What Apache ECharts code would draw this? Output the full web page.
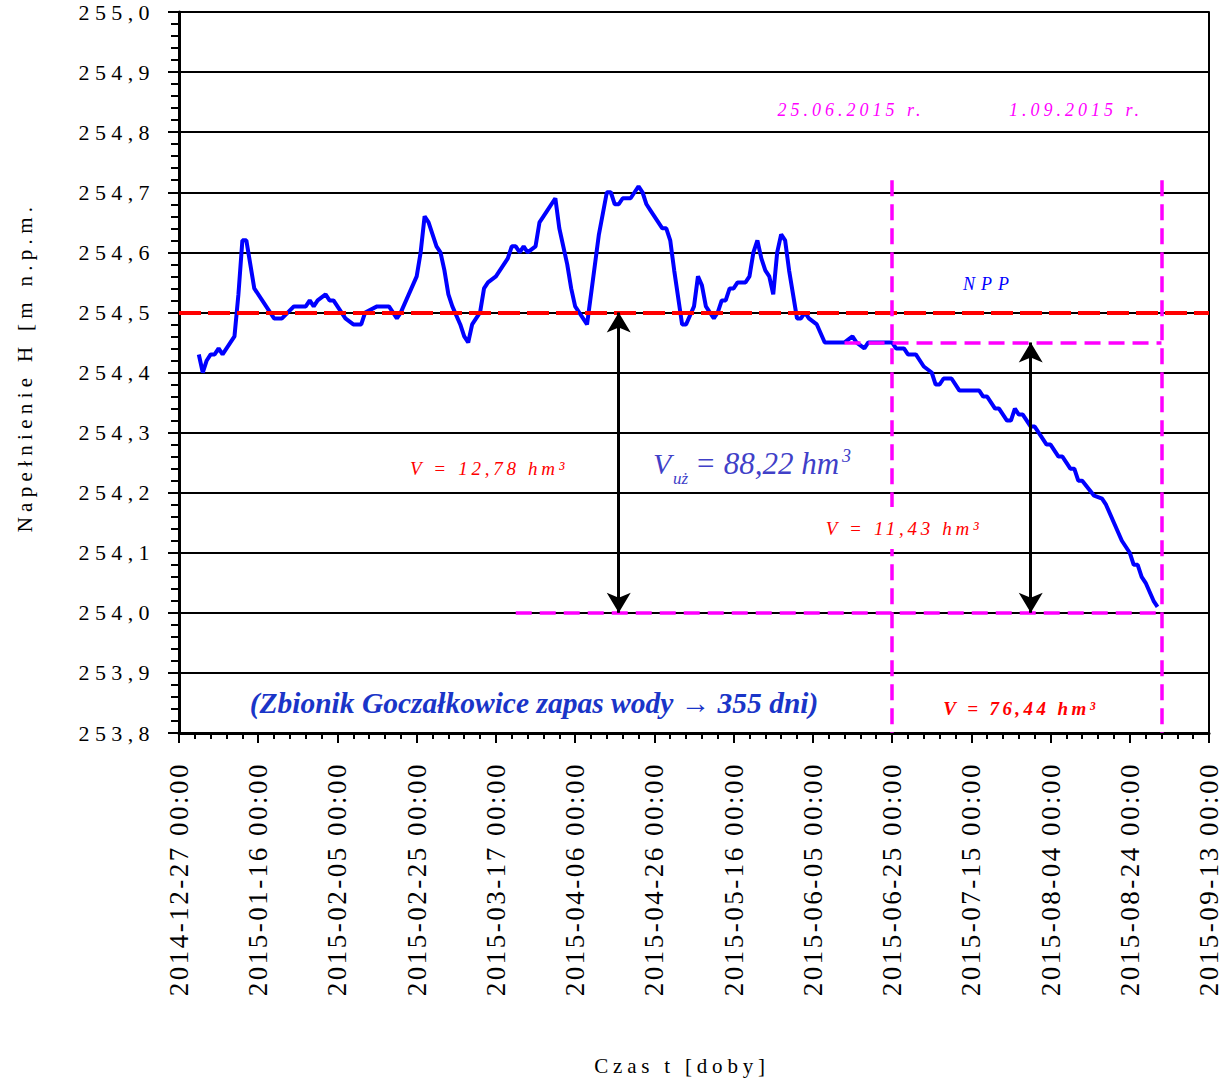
<!DOCTYPE html>
<html><head><meta charset="utf-8">
<script src="https://cdn.jsdelivr.net/npm/echarts@6/dist/echarts.min.js"></script>
<style>html,body{margin:0;padding:0;background:#fff}#chart{width:1227px;height:1082px}</style>
</head><body><div id="chart"></div>
<script>
// ---------------- data ----------------
const dates = ['2015-01-01','2015-01-02','2015-01-03','2015-01-04','2015-01-05','2015-01-06','2015-01-07','2015-01-10','2015-01-11','2015-01-12',
'2015-01-13','2015-01-15','2015-01-19','2015-01-20','2015-01-22','2015-01-25','2015-01-28','2015-01-29','2015-01-30','2015-01-31',
'2015-02-02','2015-02-03','2015-02-04','2015-02-06','2015-02-07','2015-02-09','2015-02-11','2015-02-12','2015-02-15','2015-02-18',
'2015-02-19','2015-02-20','2015-02-21','2015-02-23','2015-02-25','2015-02-26','2015-02-27','2015-02-28','2015-03-02','2015-03-03',
'2015-03-04','2015-03-05','2015-03-06','2015-03-08','2015-03-09','2015-03-10','2015-03-11','2015-03-13','2015-03-14','2015-03-15',
'2015-03-17','2015-03-20','2015-03-21','2015-03-22','2015-03-23','2015-03-24','2015-03-25','2015-03-27','2015-03-28','2015-03-30',
'2015-04-01','2015-04-02','2015-04-04','2015-04-05','2015-04-06','2015-04-07','2015-04-09','2015-04-10','2015-04-12','2015-04-14',
'2015-04-15','2015-04-16','2015-04-17','2015-04-18','2015-04-20','2015-04-22','2015-04-23','2015-04-24','2015-04-25','2015-04-26',
'2015-04-28','2015-04-29','2015-04-30','2015-05-01','2015-05-03','2015-05-04','2015-05-06','2015-05-07','2015-05-08','2015-05-09',
'2015-05-11','2015-05-12','2015-05-13','2015-05-14','2015-05-15','2015-05-16','2015-05-17','2015-05-19','2015-05-20','2015-05-21',
'2015-05-22','2015-05-23','2015-05-24','2015-05-25','2015-05-26','2015-05-27','2015-05-28','2015-05-29','2015-05-30','2015-06-01',
'2015-06-02','2015-06-03','2015-06-04','2015-06-06','2015-06-08','2015-06-13','2015-06-15','2015-06-16','2015-06-18','2015-06-19',
'2015-06-25','2015-06-26','2015-06-28','2015-06-29','2015-07-01','2015-07-03','2015-07-05','2015-07-06','2015-07-07','2015-07-08',
'2015-07-10','2015-07-12','2015-07-17','2015-07-18','2015-07-19','2015-07-21','2015-07-22','2015-07-24','2015-07-25','2015-07-26',
'2015-07-27','2015-07-28','2015-07-30','2015-07-31','2015-08-03','2015-08-04','2015-08-06','2015-08-07','2015-08-09','2015-08-10',
'2015-08-11','2015-08-12','2015-08-15','2015-08-17','2015-08-18','2015-08-20','2015-08-22','2015-08-24','2015-08-25','2015-08-26',
'2015-08-27','2015-08-28','2015-08-30','2015-08-31'];
const levels = [254.43,254.40,254.42,254.43,254.43,254.44,254.43,254.46,254.53,254.62,
254.62,254.54,254.50,254.49,254.49,254.51,254.51,254.52,254.51,254.52,
254.53,254.52,254.52,254.50,254.49,254.48,254.48,254.50,254.51,254.51,
254.50,254.49,254.50,254.53,254.56,254.60,254.66,254.65,254.61,254.60,
254.57,254.53,254.51,254.48,254.46,254.45,254.48,254.50,254.54,254.55,
254.56,254.59,254.61,254.61,254.60,254.61,254.60,254.61,254.65,254.67,
254.69,254.64,254.58,254.54,254.51,254.50,254.48,254.53,254.63,254.70,
254.70,254.68,254.68,254.69,254.69,254.71,254.70,254.68,254.67,254.66,
254.64,254.64,254.62,254.57,254.48,254.48,254.51,254.56,254.545,254.51,
254.49,254.50,254.52,254.52,254.54,254.54,254.55,254.55,254.56,254.60,
254.62,254.59,254.57,254.56,254.53,254.60,254.63,254.62,254.57,254.49,
254.49,254.50,254.49,254.48,254.45,254.45,254.46,254.45,254.44,254.45,
254.45,254.44,254.44,254.43,254.43,254.41,254.40,254.38,254.38,254.39,
254.39,254.37,254.37,254.36,254.36,254.34,254.34,254.32,254.32,254.34,
254.33,254.33,254.31,254.31,254.28,254.28,254.26,254.26,254.24,254.24,
254.22,254.22,254.195,254.19,254.18,254.15,254.12,254.10,254.08,254.08,
254.06,254.05,254.02,254.01];

const xTickLabels = ['2014-12-27 00:00','2015-01-16 00:00','2015-02-05 00:00','2015-02-25 00:00','2015-03-17 00:00','2015-04-06 00:00','2015-04-26 00:00',
'2015-05-16 00:00','2015-06-05 00:00','2015-06-25 00:00','2015-07-15 00:00','2015-08-04 00:00','2015-08-24 00:00','2015-09-13 00:00'];
const yTickLabels = ['253,8','253,9','254,0','254,1','254,2','254,3','254,4','254,5','254,6','254,7','254,8','254,9','255,0'];

// reference levels / annotation marks
const nppLevel = 254.5;
const markDates = ['2015-06-25', '2015-09-01'];
const markTopLevel = 254.72;
const lowerLevel = 254.45;
const lowerStart = '2015-06-13';
const deadLevel = 254.0;
const deadStart = '2015-03-22';
const arrowDates = ['2015-04-17', '2015-07-30'];
const arrowTops = [254.5, 254.45];

// ---------------- helpers ----------------
const startDate = '2014-12-27';
const endDate = '2015-09-13';
function dayOf(s){ return Math.round((Date.parse(s+'T00:00:00Z') - Date.parse(startDate+'T00:00:00Z'))/86400000); }
const xMin = 0, xMax = dayOf(endDate), xStep = 20;
const yMin = 253.8, yMax = 255.0, yStep = 0.1;

const FONT = '"Liberation Serif", "Times New Roman", serif';
const seriesData = dates.map((d,i)=>[dayOf(d), levels[i]]);

const chart = echarts.init(document.getElementById('chart'), null, {renderer:'svg'});

function txt(o){
  return Object.assign({type:'text', z:50, silent:true}, o, {style: Object.assign({fontFamily:FONT, align:'center', verticalAlign:'middle', textAlign:'center', textVerticalAlign:'middle'}, o.style)});
}

const option = {
  animation:false,
  backgroundColor:'#fff',
  grid:{left:179, right:18, top:12, bottom:349, containLabel:false},
  xAxis:{
    type:'value', min:xMin, max:xMax, interval:xStep,
    axisLine:{show:true, onZero:false, lineStyle:{color:'#000', width:3}},
    axisTick:{show:true, length:10, lineStyle:{color:'#000', width:2}},
    minorTick:{show:true, splitNumber:5, length:6, lineStyle:{color:'#000', width:2}},
    splitLine:{show:false},
    axisLabel:{rotate:90, margin:29, fontFamily:FONT, fontSize:27, color:'#000', padding:[10,0,0,0],
      formatter:(v)=>xTickLabels[Math.round((v-xMin)/xStep)]}
  },
  yAxis:[{
    type:'value', min:yMin, max:yMax, interval:yStep,
    axisLine:{show:true, lineStyle:{color:'#000', width:3}},
    axisTick:{show:true, length:11, lineStyle:{color:'#000', width:2}},
    minorTick:{show:true, splitNumber:5, length:8, lineStyle:{color:'#000', width:2}},
    splitLine:{show:true, lineStyle:{color:'#000', width:2}},
    axisLabel:{margin:24, fontFamily:FONT, fontSize:22, color:'#000', padding:[6,0,0,0],
      formatter:(v)=>yTickLabels[Math.round((v-yMin)/yStep)]}
  },{
    type:'value', min:yMin, max:yMax, interval:yStep, position:'right',
    axisLine:{show:true, lineStyle:{color:'#000', width:2}},
    axisTick:{show:false}, axisLabel:{show:false}, splitLine:{show:false}
  }],
  series:[
    {type:'line', name:'H', data:seriesData, showSymbol:false, symbol:'none', z:3,
     lineStyle:{color:'#0000ff', width:4}},
    {type:'line', name:'NPP', data:[], z:4,
     markLine:{silent:true, animation:false, symbol:['none','none'], label:{show:false}, z:6,
       lineStyle:{color:'#ff0000', width:4, type:[22,7]},
       data:[[{coord:[xMin, nppLevel]},{coord:[xMax, nppLevel]}]]}},
    {type:'line', name:'limits', data:[], z:4,
     markLine:{silent:true, animation:false, symbol:['none','none'], label:{show:false}, z:7,
       lineStyle:{color:'#ff00ff', width:3.5, type:[16,8]},
       data:[
         [{coord:[dayOf(markDates[0]), markTopLevel]},{coord:[dayOf(markDates[0]), yMin]}],
         [{coord:[dayOf(markDates[1]), markTopLevel]},{coord:[dayOf(markDates[1]), yMin]}],
         [{coord:[dayOf(lowerStart), lowerLevel]},{coord:[dayOf(markDates[1]), lowerLevel]}],
         [{coord:[dayOf(deadStart), deadLevel]},{coord:[dayOf(markDates[1]), deadLevel]}]
       ]}},
    {type:'line', name:'arrows', data:[], z:4,
     markLine:{silent:true, animation:false, symbol:['arrow','arrow'], symbolSize:[18,20], label:{show:false}, z:8,
       lineStyle:{color:'#000', width:3, type:'solid'},
       data: arrowDates.map((d,i)=>[{coord:[dayOf(d), arrowTops[i]]},{coord:[dayOf(d), deadLevel]}])}}
  ],
  graphic:[
    txt({x:25, y:367, rotation:Math.PI/2, style:{text:'Napełnienie H [m n.p.m.', fontSize:21, fill:'#000'}}),
    txt({x:682, y:1066, style:{text:'Czas t [doby]', fontSize:21, fill:'#000'}}),
    txt({x:851, y:110, style:{text:'25.06.2015 r.', fontSize:18, fontStyle:'italic', fill:'#ff00ff'}}),
    txt({x:1076, y:110, style:{text:'1.09.2015 r.', fontSize:18, fontStyle:'italic', fill:'#ff00ff'}}),
    txt({x:989, y:284, style:{text:'NPP', fontSize:18, fontStyle:'italic', fill:'#0000ff'}}),
    txt({x:489, y:468, style:{text:'V = 12,78 hm³', fontSize:19, fontStyle:'italic', fill:'#ff0000'}}),
    txt({x:904, y:528, style:{text:'V = 11,43 hm³', fontSize:19, fontStyle:'italic', fill:'#ff0000', backgroundColor:'#fff', padding:[16,6,7,6]}}),
    txt({x:1021, y:708, style:{text:'V = 76,44 hm³', fontSize:19, fontStyle:'italic', fontWeight:'bold', fill:'#ff0000'}}),
    txt({x:534, y:703, style:{text:'(Zbionik Goczałkowice zapas wody → 355 dni)', fontSize:29.5, fontStyle:'italic', fontWeight:'bold', fill:'#1a35c8'}}),
    txt({x:653, y:463, style:{text:'V', fontSize:30, fontStyle:'italic', fill:'#4040c8', align:'left', textAlign:'left'}}),
    txt({x:673, y:478, style:{text:'uż', fontSize:17, fontStyle:'italic', fill:'#4040c8', align:'left', textAlign:'left'}}),
    txt({x:695, y:463, style:{text:'= 88,22 hm', fontSize:31, fontStyle:'italic', fill:'#4040c8', align:'left', textAlign:'left'}}),
    txt({x:842, y:456, style:{text:'3', fontSize:18, fontStyle:'italic', fill:'#4040c8', align:'left', textAlign:'left'}})
  ]
};
chart.setOption(option);

// letter spacing to mimic the expanded character spacing of the original
const spacing = {
  'Napełnienie H [m n.p.m.':5.3, 'Czas t [doby]':4.8, '25.06.2015 r.':4, '1.09.2015 r.':4, 'NPP':6,
  'V = 12,78 hm³':3.7, 'V = 11,43 hm³':3.7, 'V = 76,44 hm³':3.4
};
function applySpacing(){
  document.querySelectorAll('#chart svg text').forEach(t=>{
    const s = (t.textContent||'').trim();
    let ls = null;
    if (/^25\d,\d$/.test(s)) ls = 5.4;
    else if (/^\d{4}-\d\d-\d\d 00:00$/.test(s)) ls = 2.5;
    else if (spacing[s] != null) ls = spacing[s];
    if (ls != null) t.style.letterSpacing = ls + 'px';
  });
}
applySpacing();
chart.on('finished', applySpacing);
setTimeout(applySpacing, 50);
</script>
</body></html>
